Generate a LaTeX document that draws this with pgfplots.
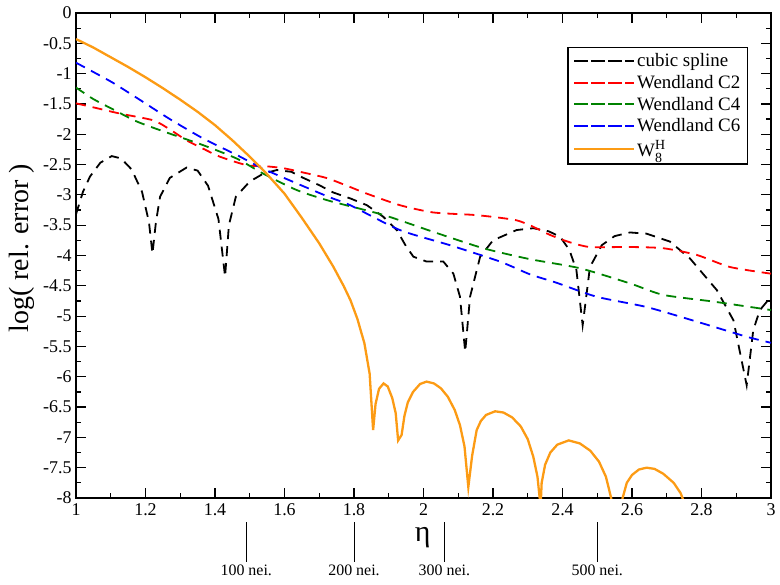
\documentclass[border=0pt]{standalone}
\usepackage{pgfplots}
\pgfplotsset{compat=1.18}
\usepackage{fontspec}
\setmainfont{Liberation Serif}
\definecolor{wgreen}{RGB}{0,130,0}
\definecolor{worange}{RGB}{252,155,20}
\begin{document}
\begin{tikzpicture}
\path[use as bounding box] (-76bp,-87bp) rectangle (704bp,498bp);
\begin{axis}[
  at={(0,0)}, anchor=south west,
  scale only axis, width=695bp, height=485bp,
  xmin=1, xmax=3, ymin=-8, ymax=0,
  xtick={1,1.2,...,3.01}, minor x tick num=1,
  ytick={-8,-7.5,...,0}, minor y tick num=1,
  tick align=inside, major tick length=10bp, minor tick length=5bp,
  every tick/.style={black, line width=1.2bp},
  axis line style={line width=1.8bp},
  tick label style={font=\fontsize{18}{20}\selectfont},
  /pgf/number format/assume math mode=true,
  xticklabel style={yshift=-2bp},
  yticklabel style={xshift=-1bp},
  xlabel={\fontsize{30}{30}\selectfont η},
  xlabel style={at={(axis description cs:0.499,-0.0825)}, anchor=center},
  ylabel={\fontsize{28}{30}\selectfont log( rel. error )},
  ylabel style={at={(axis description cs:-0.0777,0.515)}, anchor=center},
  clip mode=individual,
  legend style={at={(axis description cs:0.967,0.930)}, anchor=north east,
    draw=black, line width=1.5bp, fill=white, font=\fontsize{19}{21}\selectfont,
    inner xsep=5bp, inner ysep=4bp, row sep=3bp},
  legend cell align=left,
  legend image code/.code={\path (-4bp,0pt) -- (56bp,0pt);\draw[#1] (0pt,0pt) -- (45bp,0pt);},
  every axis plot/.append style={line width=1.8bp},
]
\addplot[black, dash pattern=on 10bp off 7bp] coordinates {
(1.00,-3.32)(1.02,-2.95)(1.04,-2.70)(1.07,-2.47)(1.103,-2.36)(1.13,-2.40)(1.16,-2.58)
(1.19,-2.95)(1.21,-3.45)(1.22,-3.97)(1.23,-3.45)(1.242,-3.03)(1.27,-2.72)(1.318,-2.55)
(1.35,-2.60)(1.38,-2.85)(1.41,-3.40)(1.429,-4.35)(1.44,-3.50)(1.46,-3.03)(1.50,-2.78)
(1.539,-2.65)(1.578,-2.59)(1.62,-2.62)(1.654,-2.72)(1.70,-2.84)(1.74,-2.96)(1.79,-3.06)
(1.837,-3.17)(1.884,-3.36)(1.923,-3.58)(1.95,-3.85)(1.971,-4.02)(2.009,-4.10)(2.057,-4.10)
(2.086,-4.30)(2.105,-4.68)(2.12,-5.59)(2.134,-4.68)(2.163,-4.02)(2.20,-3.75)(2.268,-3.58)
(2.316,-3.55)(2.36,-3.60)(2.393,-3.69)(2.42,-3.91)(2.44,-4.24)(2.458,-5.15)(2.479,-4.19)
(2.513,-3.83)(2.55,-3.68)(2.594,-3.62)(2.642,-3.64)(2.709,-3.77)(2.767,-4.05)(2.844,-4.57)
(2.892,-5.07)(2.93,-6.14)(2.949,-5.23)(2.968,-4.90)(3.00,-4.68)};
\addlegendentry{cubic spline}
\addplot[red, dash pattern=on 10bp off 7bp, smooth, tension=0.4] coordinates {
(1.00,-1.49)(1.06,-1.57)(1.127,-1.66)(1.222,-1.77)(1.27,-1.92)(1.318,-2.10)(1.37,-2.25)
(1.414,-2.37)(1.491,-2.51)(1.55,-2.53)(1.597,-2.56)(1.645,-2.62)(1.72,-2.72)(1.78,-2.85)
(1.837,-2.98)(1.932,-3.17)(2.028,-3.29)(2.143,-3.33)(2.21,-3.37)(2.268,-3.42)(2.306,-3.50)
(2.364,-3.66)(2.42,-3.78)(2.479,-3.86)(2.594,-3.86)(2.69,-3.88)(2.786,-3.99)(2.882,-4.19)
(3.00,-4.30)};
\addlegendentry{Wendland C2}
\addplot[wgreen, dash pattern=on 10bp off 7bp, smooth, tension=0.4] coordinates {
(1.00,-1.23)(1.05,-1.42)(1.10,-1.57)(1.175,-1.79)(1.27,-1.99)(1.366,-2.18)(1.462,-2.40)
(1.539,-2.65)(1.635,-2.92)(1.73,-3.10)(1.884,-3.33)(2.028,-3.61)(2.172,-3.88)(2.306,-4.06)
(2.45,-4.21)(2.594,-4.46)(2.69,-4.65)(2.834,-4.76)(3.00,-4.90)};
\addlegendentry{Wendland C4}
\addplot[blue, dash pattern=on 10bp off 7bp, smooth, tension=0.4] coordinates {
(1.00,-0.82)(1.10,-1.13)(1.175,-1.40)(1.27,-1.75)(1.366,-2.07)(1.462,-2.34)(1.539,-2.57)
(1.635,-2.81)(1.73,-3.04)(1.789,-3.17)(1.932,-3.58)(2.076,-3.83)(2.22,-4.10)(2.306,-4.31)
(2.383,-4.45)(2.498,-4.68)(2.642,-4.85)(2.786,-5.09)(2.93,-5.34)(3.00,-5.44)};
\addlegendentry{Wendland C6}
\addplot[worange, line width=2.3bp] coordinates {
(1.00,-0.43)(1.05,-0.57)(1.10,-0.73)(1.15,-0.89)(1.20,-1.06)(1.25,-1.24)(1.30,-1.43)
(1.35,-1.63)(1.40,-1.85)(1.45,-2.10)(1.50,-2.37)(1.55,-2.66)(1.60,-2.98)(1.65,-3.38)
(1.70,-3.80)(1.74,-4.18)(1.77,-4.50)(1.79,-4.74)(1.81,-5.05)(1.83,-5.45)(1.845,-5.95)
(1.855,-6.88)(1.862,-6.45)(1.872,-6.20)(1.885,-6.11)(1.897,-6.16)(1.91,-6.35)(1.92,-6.60)
(1.927,-7.05)(1.937,-6.96)(1.945,-6.65)(1.955,-6.42)(1.97,-6.25)(1.99,-6.12)(2.009,-6.08)
(2.03,-6.11)(2.05,-6.19)(2.07,-6.33)(2.09,-6.55)(2.105,-6.80)(2.118,-7.15)(2.129,-7.82)
(2.14,-7.30)(2.153,-6.88)(2.165,-6.73)(2.18,-6.63)(2.206,-6.57)(2.23,-6.59)(2.255,-6.67)
(2.28,-6.82)(2.30,-7.03)(2.316,-7.32)(2.328,-7.65)(2.337,-8.15)(2.34,-7.75)(2.35,-7.45)
(2.365,-7.25)(2.385,-7.12)(2.418,-7.05)(2.45,-7.10)(2.48,-7.22)(2.505,-7.40)(2.525,-7.65)
(2.54,-8.0)(2.556,-8.6)(2.573,-8.0)(2.585,-7.75)(2.60,-7.62)(2.62,-7.53)(2.642,-7.50)
(2.665,-7.52)(2.69,-7.60)(2.72,-7.75)(2.74,-7.92)(2.755,-8.15)};
\addlegendentry{W\rlap{\raisebox{7bp}{\fontsize{14}{14}\selectfont H}}\raisebox{-6bp}{\fontsize{14}{14}\selectfont 8}}
\foreach \xv/\lab in {1.49/100,1.80/200,2.06/300,2.50/500}{
  \edef\tmp{\noexpand\draw[line width=1bp] (axis cs:\xv,-8.40) -- (axis cs:\xv,-9.06)
    node[below, inner sep=2bp, font=\noexpand\fontsize{16}{18}\noexpand\selectfont] {\lab\ nei.};}
  \tmp
}
\end{axis}
\end{tikzpicture}
\end{document}
